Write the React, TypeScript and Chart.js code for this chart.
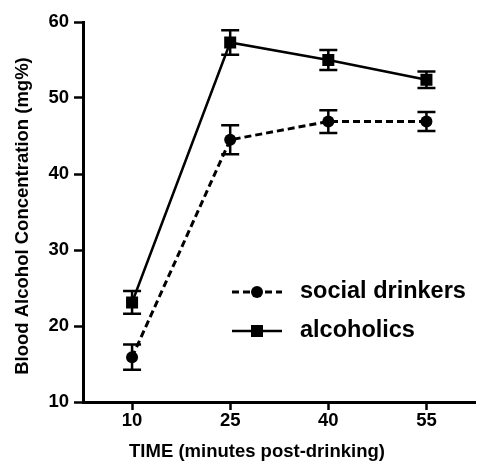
import React, { useEffect, useRef } from "react";
import { Chart, registerables } from "chart.js";

Chart.register(...registerables);

const times = [10, 25, 40, 55];
const socialMean = [15.9, 44.5, 46.9, 46.9];
const socialErr = [1.65, 1.9, 1.5, 1.25];
const alcMean = [23.1, 57.3, 55.0, 52.4];
const alcErr = [1.5, 1.6, 1.3, 1.1];
const xTicks = [10, 25, 40, 55];
const legendLabels = ["social drinkers", "alcoholics"];
const xTitle = "TIME (minutes post-drinking)";
const yTitle = "Blood Alcohol Concentration (mg%)";

const FONT = "'Liberation Sans', Arial, Helvetica, sans-serif";

const errorBarPlugin = {
  id: "errorBars",
  afterDatasetsDraw(chart: any) {
    const ctx = chart.ctx;
    const xs = chart.scales.x;
    const ys = chart.scales.y;
    const sets = [
      { m: socialMean, e: socialErr },
      { m: alcMean, e: alcErr },
    ];
    ctx.save();
    ctx.strokeStyle = "#000";
    ctx.lineWidth = 2.5;
    ctx.setLineDash([]);
    sets.forEach((s) => {
      times.forEach((t, i) => {
        const x = xs.getPixelForValue(t);
        const yt = ys.getPixelForValue(s.m[i] + s.e[i]);
        const yb = ys.getPixelForValue(s.m[i] - s.e[i]);
        ctx.beginPath();
        ctx.moveTo(x, yt);
        ctx.lineTo(x, yb);
        ctx.moveTo(x - 9, yt);
        ctx.lineTo(x + 9, yt);
        ctx.moveTo(x - 9, yb);
        ctx.lineTo(x + 9, yb);
        ctx.stroke();
      });
    });
    ctx.restore();
  },
};

const legendPlugin = {
  id: "customLegend",
  afterDraw(chart: any) {
    const ctx = chart.ctx;
    ctx.save();
    ctx.strokeStyle = "#000";
    ctx.fillStyle = "#000";
    ctx.lineWidth = 3;
    const x0 = 232, x1 = 282, xm = 257;
    const rows = [292, 331];
    ctx.setLineDash([7, 4]);
    ctx.beginPath();
    ctx.moveTo(x0, rows[0]);
    ctx.lineTo(x1, rows[0]);
    ctx.stroke();
    ctx.setLineDash([]);
    ctx.beginPath();
    ctx.arc(xm, rows[0], 6, 0, Math.PI * 2);
    ctx.fill();
    ctx.lineWidth = 2.5;
    ctx.beginPath();
    ctx.moveTo(x0, rows[1]);
    ctx.lineTo(x1, rows[1]);
    ctx.stroke();
    ctx.fillRect(xm - 6, rows[1] - 6, 12, 12);
    ctx.font = `bold 23.5px ${FONT}`;
    ctx.textBaseline = "middle";
    ctx.textAlign = "left";
    ctx.fillText(legendLabels[0], 300, rows[0]);
    ctx.fillText(legendLabels[1], 300, rows[1]);

    // axis titles
    ctx.font = `bold 18.5px ${FONT}`;
    ctx.textAlign = "center";
    ctx.textBaseline = "middle";
    ctx.fillText(xTitle, 257, 452);
    ctx.translate(23, 216);
    ctx.rotate(-Math.PI / 2);
    ctx.fillText(yTitle, 0, 0);
    ctx.restore();
  },
};

export default function App() {
  const ref = useRef<HTMLCanvasElement>(null);
  useEffect(() => {
    document.body.style.margin = "0";
    const chart = new Chart(ref.current!, {
      type: "line",
      data: {
        datasets: [
          {
            label: legendLabels[0],
            data: times.map((t, i) => ({ x: t, y: socialMean[i] })),
            borderColor: "#000",
            backgroundColor: "#000",
            borderWidth: 3,
            borderDash: [7, 4],
            pointStyle: "circle",
            pointRadius: 6,
            pointBorderWidth: 0,
          },
          {
            label: legendLabels[1],
            data: times.map((t, i) => ({ x: t, y: alcMean[i] })),
            borderColor: "#000",
            backgroundColor: "#000",
            borderWidth: 2.5,
            pointStyle: "rect",
            pointRadius: 8.5,
            pointBorderWidth: 0,
          },
        ],
      },
      options: {
        animation: false,
        responsive: false,
        maintainAspectRatio: false,
        layout: { padding: { top: 22, right: 1, left: 0, bottom: 0 } },
        plugins: { legend: { display: false }, tooltip: { enabled: false } },
        scales: {
          x: {
            type: "linear",
            min: 2.5,
            max: 62.5,
            afterBuildTicks: (s: any) => {
              s.ticks = xTicks.map((v) => ({ value: v }));
            },
            afterFit: (s: any) => {
              s.height = 61;
            },
            grid: {
              drawOnChartArea: false,
              tickLength: 8,
              tickWidth: 2.5,
              tickColor: "#000",
            },
            border: { color: "#000", width: 3 },
            ticks: {
              color: "#000",
              font: { family: FONT, size: 18.5, weight: "bold" },
              padding: 0,
              maxRotation: 0,
            },
            title: { display: false, text: xTitle },
          },
          y: {
            min: 10,
            max: 60,
            afterFit: (s: any) => {
              s.width = 83;
            },
            grid: {
              drawOnChartArea: false,
              tickLength: 9,
              tickWidth: 2.5,
              tickColor: "#000",
            },
            border: { color: "#000", width: 3 },
            ticks: {
              stepSize: 10,
              color: "#000",
              font: { family: FONT, size: 18.5, weight: "bold" },
              padding: 5,
            },
            title: { display: false, text: yTitle },
          },
        },
      },
      plugins: [errorBarPlugin, legendPlugin],
    } as any);
    return () => chart.destroy();
  }, []);
  return (
    <canvas ref={ref} width={484} height={463} style={{ display: "block", width: 484, height: 463 }} />
  );
}
